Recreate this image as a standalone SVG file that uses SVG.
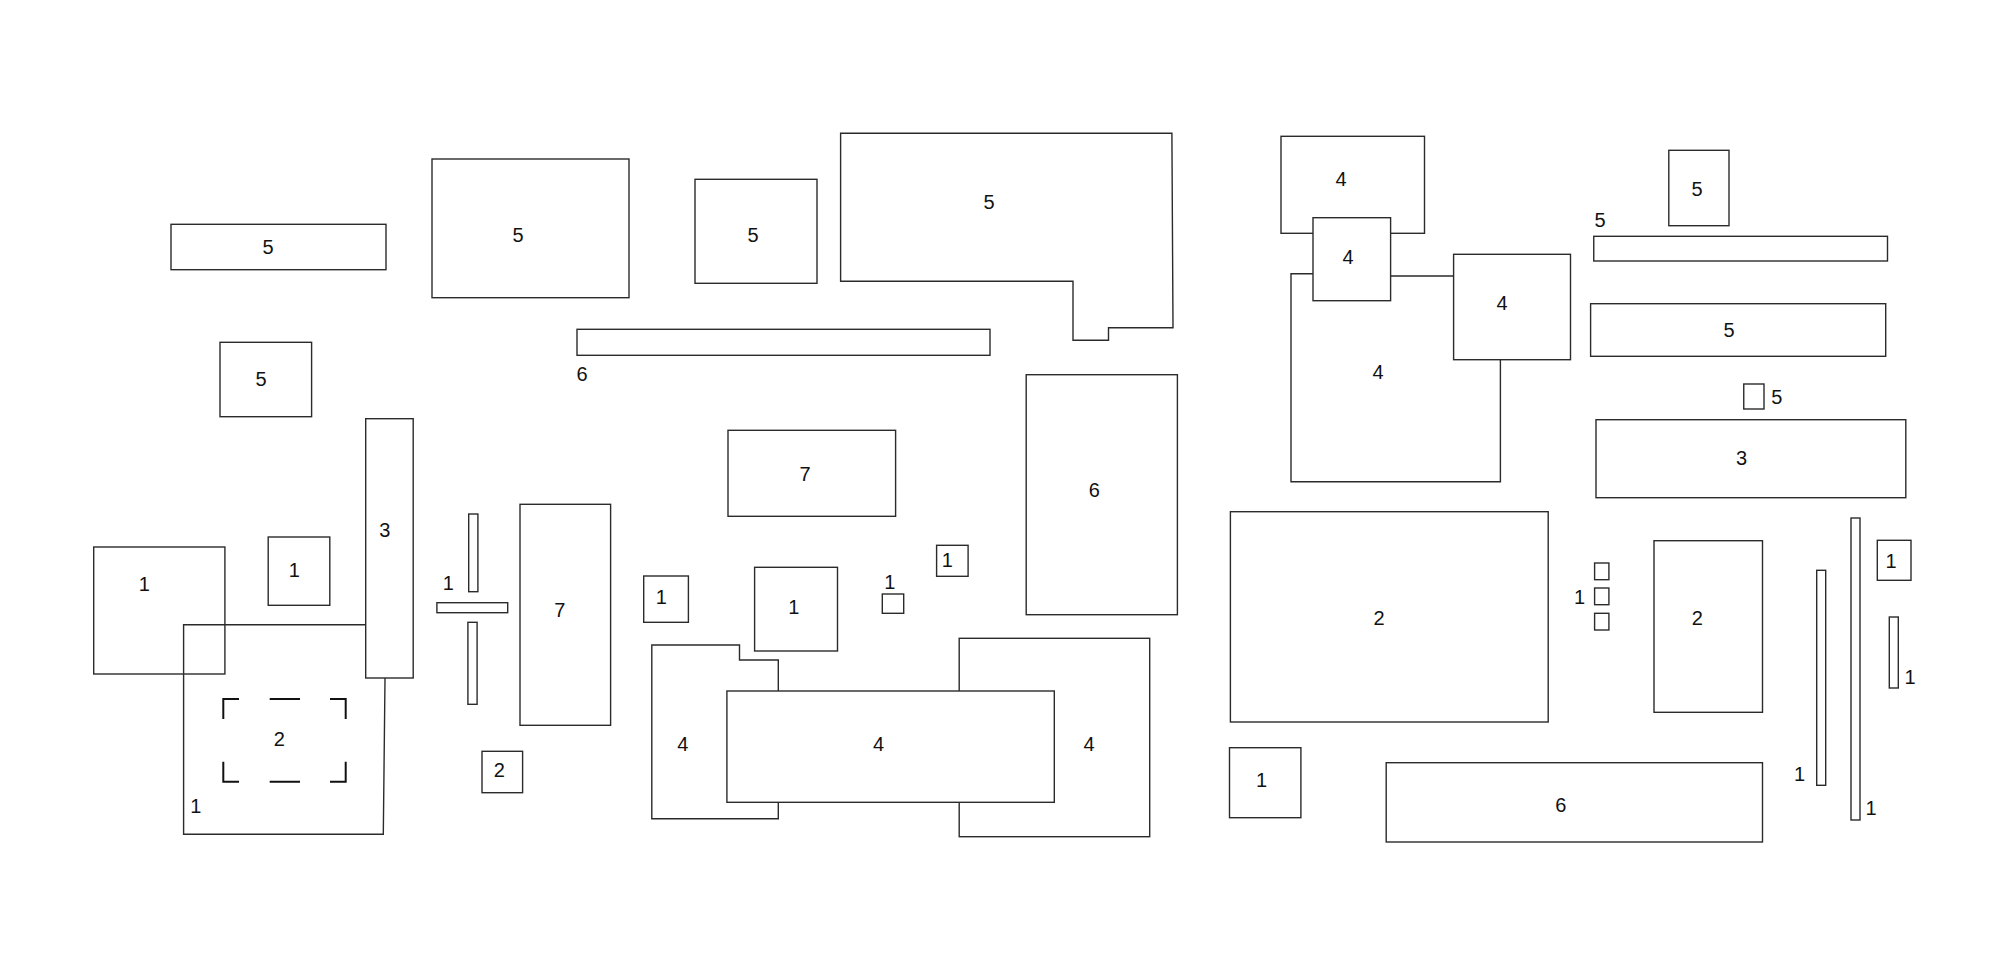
<svg xmlns="http://www.w3.org/2000/svg" width="2000" height="962" viewBox="0 0 2000 962">
<style>
.s{fill:none;stroke:#2b2b2b;stroke-width:1.4}
.w{fill:#fff;stroke:#2b2b2b;stroke-width:1.4}
.d{fill:none;stroke:#111;stroke-width:2}
.t{font-family:"Liberation Sans",Arial,sans-serif;font-size:20px;fill:#111;text-anchor:middle}
</style>
<rect width="2000" height="962" fill="#fff"/>
<g id="top-left">
<rect class="s" x="171" y="224.3" width="215" height="45.4"/><text class="t" x="268" y="254">5</text>
<rect class="s" x="432" y="159" width="197" height="138.7"/><text class="t" x="518" y="241.5">5</text>
<rect class="s" x="220" y="342.3" width="91.6" height="74.4"/><text class="t" x="261" y="385.5">5</text>
<rect class="s" x="695" y="179.3" width="122" height="104"/><text class="t" x="753" y="242">5</text>
<path class="s" d="M840.6,133.3 H1171.9 L1173,327.7 H1108.5 V340.3 H1073 V281.3 H840.6 Z"/><text class="t" x="989" y="209">5</text>
<rect class="s" x="577" y="329.3" width="413" height="26"/><text class="t" x="582" y="380.5">6</text>
</g>
<g id="center">
<rect class="s" x="728" y="430.3" width="167.6" height="86"/><text class="t" x="805" y="481">7</text>
<rect class="s" x="1026.2" y="374.7" width="151.2" height="240"/><text class="t" x="1094.2" y="497">6</text>
<rect class="s" x="643.7" y="576" width="44.7" height="46.3"/><text class="t" x="661.4" y="604">1</text>
<rect class="s" x="754.6" y="567.3" width="82.9" height="83.7"/><text class="t" x="793.9" y="614">1</text>
<rect class="s" x="882.3" y="594" width="21.4" height="19.3"/><text class="t" x="889.7" y="589">1</text>
<rect class="s" x="936.6" y="545.3" width="31.5" height="31"/><text class="t" x="947.4" y="567">1</text>
<path class="s" d="M651.8,645 H739.5 V660 H778.3 V818.7 H651.8 Z"/>
<rect class="s" x="959.2" y="638.3" width="190.5" height="198.4"/>
<rect class="w" x="726.9" y="691" width="327.4" height="111.3"/>
<text class="t" x="682.9" y="750.5">4</text><text class="t" x="878.6" y="750.5">4</text><text class="t" x="1089" y="750.5">4</text>
</g>
<g id="bottom-left">
<rect class="s" x="93.7" y="547" width="131.2" height="127"/><text class="t" x="144.2" y="590.5">1</text>
<rect class="s" x="268.2" y="537" width="61.6" height="68.3"/><text class="t" x="294.2" y="577">1</text>
<path class="s" d="M183.6,624.7 H385.6 L383.3,834.3 H183.6 Z"/><text class="t" x="195.8" y="813">1</text>
<rect class="w" x="365.7" y="418.7" width="47.5" height="259.3"/><text class="t" x="384.9" y="537">3</text>
<path class="d" d="M223.3,719 V699 H239 M269.7,699 H300 M330,699 H345.7 V719 M223.3,761.7 V781.7 H239 M269.7,781.7 H300 M330,781.7 H345.7 V761.7"/>
<text class="t" x="279.3" y="746">2</text>
<rect class="s" x="468.7" y="514" width="9.2" height="77.7"/>
<rect class="s" x="436.9" y="602.7" width="70.8" height="10"/>
<rect class="s" x="467.9" y="622.3" width="9.2" height="82"/>
<text class="t" x="448.4" y="590">1</text>
<rect class="s" x="520" y="504.3" width="90.6" height="221"/><text class="t" x="559.8" y="617">7</text>
<rect class="s" x="482" y="751.3" width="40.6" height="41.4"/><text class="t" x="499.3" y="777">2</text>
</g>
<g id="top-right">
<rect class="s" x="1281" y="136.3" width="143.5" height="97"/>
<path class="s" d="M1313,273.7 H1291 V481.7 H1500.4 V360 M1390.6,276 H1453.6"/>
<rect class="w" x="1313" y="217.7" width="77.6" height="83"/>
<rect class="w" x="1453.6" y="254.3" width="116.9" height="105.4"/>
<text class="t" x="1341" y="185.5">4</text><text class="t" x="1348" y="264">4</text><text class="t" x="1502" y="310">4</text><text class="t" x="1378" y="379">4</text>
<rect class="s" x="1668.8" y="150.3" width="60.2" height="75.4"/><text class="t" x="1697" y="195.5">5</text>
<text class="t" x="1600" y="227">5</text>
<rect class="s" x="1593.75" y="236.3" width="293.75" height="24.7"/>
<rect class="s" x="1590.6" y="303.7" width="295.1" height="52.6"/><text class="t" x="1729" y="337">5</text>
<rect class="s" x="1743.75" y="384" width="20.25" height="25"/><text class="t" x="1776.8" y="404">5</text>
<rect class="s" x="1596" y="419.7" width="309.8" height="78"/><text class="t" x="1741.5" y="464.5">3</text>
</g>
<g id="bottom-right">
<rect class="s" x="1230.4" y="511.7" width="317.8" height="210.3"/><text class="t" x="1379" y="624.5">2</text>
<rect class="s" x="1594.6" y="563" width="14.3" height="16.7"/>
<rect class="s" x="1594.6" y="588" width="14.3" height="16.7"/>
<rect class="s" x="1594.6" y="613.3" width="14.3" height="16.7"/>
<text class="t" x="1579.5" y="604">1</text>
<rect class="s" x="1654" y="540.7" width="108.5" height="171.6"/><text class="t" x="1697.3" y="625">2</text>
<rect class="s" x="1229.5" y="747.7" width="71.4" height="70"/><text class="t" x="1261.6" y="787">1</text>
<rect class="s" x="1386.2" y="762.7" width="376.3" height="79.3"/><text class="t" x="1560.7" y="812">6</text>
<rect class="s" x="1816.7" y="570.3" width="9" height="215"/><text class="t" x="1799.6" y="781">1</text>
<rect class="s" x="1851" y="518" width="9" height="302"/><text class="t" x="1871" y="814.5">1</text>
<rect class="s" x="1877.3" y="540.3" width="33.7" height="40"/><text class="t" x="1891" y="568">1</text>
<rect class="s" x="1889.3" y="617" width="9" height="71"/><text class="t" x="1910" y="684">1</text>
</g>
</svg>
